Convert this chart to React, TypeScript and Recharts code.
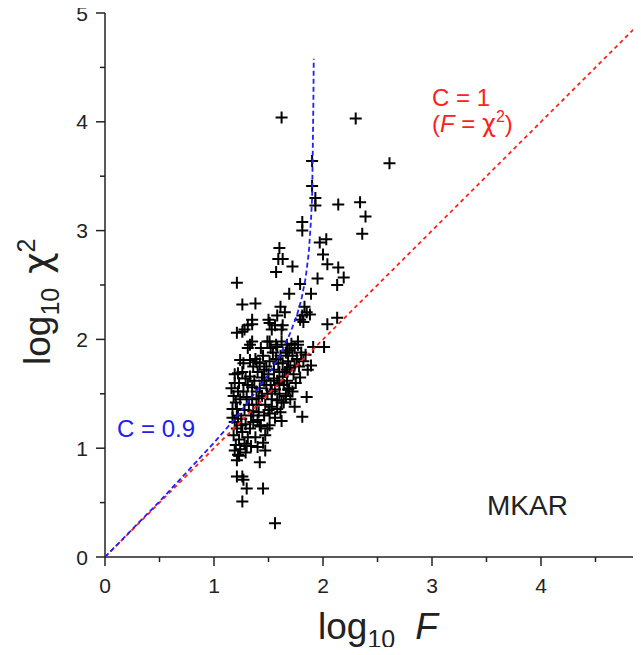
import React from "react";
import { ScatterChart, Scatter, XAxis, YAxis } from "recharts";

const FONT = "'Liberation Sans', Arial, sans-serif";
const GREEK = "'DejaVu Sans', sans-serif";
const INK = "#222";

// axis ticks, every 0.5 (labels only on whole numbers)
const TICKS = [0, 0.5, 1, 1.5, 2, 2.5, 3, 3.5, 4, 4.5, 5];

// stations: log10 F
const logF = [
  1.62, 2.30, 1.90, 2.61, 1.90, 1.93, 1.93, 2.14, 2.34, 2.39, 2.36, 1.81, 1.81, 2.03, 1.97,
  1.60, 2.00, 1.59, 1.63, 1.72, 2.04, 2.14, 1.57, 2.19, 1.95, 2.13, 1.79, 1.21, 1.69, 1.89,
  1.61, 1.65, 1.58, 1.83, 1.85, 1.81, 1.88, 1.79, 1.82, 2.13, 2.04, 1.56, 1.63, 1.62, 1.53,
  1.26, 1.38, 1.35, 1.50, 1.31, 1.26, 1.21, 1.35, 1.51,
  1.28, 1.35, 1.31, 1.77, 1.62, 1.51, 1.58, 1.67, 1.67, 2.01, 1.91, 1.89, 1.24, 1.33, 1.39,
  1.85, 1.74, 1.81, 1.61, 1.62, 1.53, 1.51, 1.42, 1.51, 1.45, 1.47, 1.40, 1.42, 1.21, 1.22,
  1.19, 1.21, 1.26, 1.27, 1.30, 1.45, 1.26, 1.56, 1.68, 1.33, 1.49, 1.22, 1.19,
  1.16, 1.18, 1.20, 1.17, 1.22, 1.19, 1.21, 1.18, 1.23, 1.20, 1.24, 1.26, 1.25, 1.28, 1.24,
  1.27, 1.23, 1.29, 1.26, 1.31, 1.30, 1.32, 1.29, 1.33, 1.31, 1.28, 1.34, 1.35, 1.22, 1.19,
  1.27, 1.33, 1.21, 1.25, 1.17, 1.30, 1.36, 1.23, 1.29, 1.35,
  1.37, 1.40, 1.38, 1.42, 1.44, 1.39, 1.41, 1.46, 1.48, 1.45, 1.43, 1.50, 1.52, 1.49, 1.47,
  1.53, 1.55, 1.57, 1.54, 1.51, 1.58, 1.56, 1.60, 1.59, 1.40, 1.43, 1.38, 1.46, 1.50, 1.44,
  1.36, 1.41, 1.48, 1.52, 1.57, 1.55, 1.46, 1.39, 1.53, 1.42,
  1.61, 1.63, 1.65, 1.66, 1.68, 1.70, 1.67, 1.64, 1.72, 1.74, 1.71, 1.76, 1.73, 1.69, 1.78,
  1.80, 1.77, 1.75, 1.82, 1.84, 1.63, 1.69, 1.60, 1.66, 1.72, 1.79, 1.86, 1.74, 1.58, 1.64,
  1.70, 1.67, 1.60,
  1.34, 1.36, 1.47, 1.56, 1.58, 1.62, 1.49,
];

// stations: log10 chi^2
const logChi2 = [
  4.04, 4.03, 3.64, 3.62, 3.41, 3.30, 3.23, 3.24, 3.26, 3.13, 2.97, 3.08, 3.00, 2.92, 2.89,
  2.84, 2.78, 2.74, 2.74, 2.67, 2.69, 2.66, 2.62, 2.57, 2.56, 2.50, 2.51, 2.52, 2.42, 2.42,
  2.30, 2.25, 2.22, 2.30, 2.25, 2.22, 2.23, 2.18, 2.16, 2.20, 2.14, 2.13, 2.13, 2.09, 2.09,
  2.32, 2.33, 2.18, 2.18, 2.13, 2.07, 2.06, 2.14, 2.15,
  2.09, 1.98, 1.92, 1.98, 1.98, 1.98, 1.93, 1.95, 1.88, 1.93, 1.93, 1.76, 1.81, 1.81, 1.79,
  1.47, 1.38, 1.29, 1.33, 1.42, 1.38, 1.32, 1.21, 1.21, 1.05, 0.98, 1.01, 0.87, 0.89, 0.94,
  0.98, 0.74, 0.74, 0.71, 0.63, 0.63, 0.51, 0.31, 1.54, 1.95, 1.98, 1.69, 1.60,
  1.55, 1.48, 1.42, 1.36, 1.30, 1.24, 1.18, 1.12, 1.08, 1.03, 0.99, 1.15, 1.27, 1.35, 1.45,
  1.52, 1.60, 1.64, 1.70, 1.58, 1.47, 1.40, 1.22, 1.18, 1.10, 1.04, 1.30, 1.45, 1.52, 1.68,
  1.78, 1.66, 1.36, 1.21, 1.28, 1.02, 1.24, 0.93, 0.96, 1.56,
  1.62, 1.70, 1.82, 1.55, 1.48, 1.40, 1.33, 1.62, 1.75, 1.85, 1.92, 1.68, 1.58, 1.50, 1.40,
  1.45, 1.72, 1.82, 1.88, 1.80, 1.62, 1.54, 1.70, 1.78, 1.26, 1.20, 1.10, 1.30, 1.35, 1.65,
  1.75, 1.46, 1.58, 1.92, 1.95, 1.64, 1.72, 1.52, 1.52, 1.78,
  1.85, 1.78, 1.70, 1.88, 1.80, 1.74, 1.62, 1.58, 1.85, 1.92, 1.96, 1.82, 1.68, 1.55, 1.75,
  1.88, 1.95, 1.60, 1.80, 1.86, 1.66, 1.90, 1.50, 1.48, 1.52, 1.65, 1.72, 1.76, 1.44, 1.42,
  1.45, 1.72, 1.60,
  1.02, 1.34, 1.12, 1.28, 1.36, 1.25, 1.18,
];

// C = 1 line (F = chi^2)
const c1F = [0, 5];
const c1Chi2 = [0, 5];

// C = 0.9 curve
const c09F = [0, 0.5, 1.0, 1.2, 1.4, 1.5, 1.6, 1.7, 1.76, 1.8, 1.84, 1.87, 1.89, 1.9, 1.905, 1.912, 1.915];
const c09Chi2 = [0, 0.51, 1.05, 1.28, 1.54, 1.68, 1.84, 2.06, 2.22, 2.36, 2.56, 2.8, 3.1, 3.3, 3.65, 4.2, 4.58];

const points = logF.map((x, i) => ({ x, y: logChi2[i] }));
const c1Line = c1F.map((x, i) => ({ x, y: c1Chi2[i] }));
const c09Line = c09F.map((x, i) => ({ x, y: c09Chi2[i] }));

const Plus = (props: any) => {
  const { cx, cy } = props;
  return <path d={`M${cx - 6},${cy}h12M${cx},${cy - 6}v12`} stroke="#000" strokeWidth={2} fill="none" />;
};

const NoDot = () => <g />;

const BottomTick = (props: any) => {
  const { x, y, payload } = props;
  const major = Number.isInteger(payload.value);
  return (
    <g>
      <line x1={x} y1={y} x2={x} y2={y + (major ? 9 : 5)} stroke={INK} strokeWidth={1.5} />
      {major && payload.value < 5 && (
        <text x={x} y={y + 36} textAnchor="middle" fontSize={21} fill={INK} fontFamily={FONT}>
          {payload.value}
        </text>
      )}
    </g>
  );
};

const TopTick = (props: any) => {
  const { x, y, payload } = props;
  const major = Number.isInteger(payload.value);
  return <line x1={x} y1={y} x2={x} y2={y - (major ? 9 : 5)} stroke={INK} strokeWidth={1.5} />;
};

const LeftTick = (props: any) => {
  const { x, y, payload } = props;
  const major = Number.isInteger(payload.value);
  return (
    <g>
      <line x1={x} y1={y} x2={x - (major ? 9 : 5)} y2={y} stroke={INK} strokeWidth={1.5} />
      {major && (
        <text x={x - 17} y={y + 7.5} textAnchor="end" fontSize={21} fill={INK} fontFamily={FONT}>
          {payload.value}
        </text>
      )}
    </g>
  );
};

const axisLine = { stroke: INK, strokeWidth: 1.5 };

export default function App() {
  return (
    <div style={{ position: "relative", width: 641, height: 655, margin: -8, overflow: "hidden", background: "#fff", fontFamily: FONT }}>
      <ScatterChart width={660} height={655} margin={{ top: 13, right: 10, bottom: 0, left: 0 }}>
        <XAxis
          xAxisId="bottom"
          dataKey="x"
          type="number"
          domain={[0, 5]}
          ticks={TICKS}
          interval={0}
          height={98}
          tickSize={0}
          tickMargin={0}
          tickLine={false}
          tick={BottomTick}
          axisLine={axisLine}
          allowDataOverflow
        />
        <XAxis
          xAxisId="top"
          orientation="top"
          type="number"
          domain={[0, 5]}
          ticks={TICKS}
          interval={0}
          height={0}
          tickSize={0}
          tickMargin={0}
          tickLine={false}
          tick={TopTick}
          axisLine={axisLine}
          allowDataOverflow
        />
        <YAxis
          dataKey="y"
          type="number"
          domain={[0, 5]}
          ticks={TICKS}
          interval={0}
          width={105}
          tickSize={0}
          tickMargin={0}
          tickLine={false}
          tick={LeftTick}
          axisLine={axisLine}
          allowDataOverflow
        />
        <Scatter xAxisId="bottom" data={points} shape={Plus} isAnimationActive={false} />
        <Scatter
          xAxisId="bottom"
          data={c1Line}
          shape={NoDot}
          line={{ stroke: "#ff2020", strokeWidth: 1.8, strokeDasharray: "4 3.5" }}
          isAnimationActive={false}
        />
        <Scatter
          xAxisId="bottom"
          data={c09Line}
          shape={NoDot}
          line={{ stroke: "#2020ff", strokeWidth: 1.8, strokeDasharray: "5 3" }}
          isAnimationActive={false}
        />
      </ScatterChart>

      <svg width={641} height={655} style={{ position: "absolute", left: 0, top: 0, pointerEvents: "none" }} fontFamily={FONT}>
        <text x={318} y={639} fontSize={37} fill={INK}>
          log<tspan fontSize={25} dy={9}>10</tspan>
          <tspan dx={20} dy={-9} fontStyle="italic">F</tspan>
        </text>
        <text transform="translate(50,365) rotate(-90)" fontSize={37} fill={INK}>
          log<tspan fontSize={25} dy={9}>10</tspan>
          <tspan dx={14} dy={-9} fontFamily={GREEK}>χ</tspan>
          <tspan fontSize={25} dy={-15}>2</tspan>
        </text>

        <text x={432} y={106} fontSize={24} fill="#ff2020">C = 1</text>
        <text x={432} y={132} fontSize={24} fill="#ff2020">
          (<tspan fontStyle="italic">F</tspan> = <tspan fontFamily={GREEK}>χ</tspan>
          <tspan fontSize={16} dy={-10}>2</tspan>
          <tspan dy={10}>)</tspan>
        </text>
        <text x={117} y={437} fontSize={24} fill="#2020ee">C = 0.9</text>
        <text x={487} y={515} fontSize={28} fill={INK}>MKAR</text>
      </svg>
    </div>
  );
}
